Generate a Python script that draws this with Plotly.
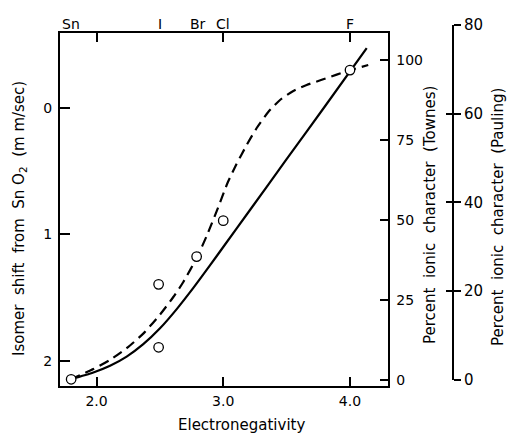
import plotly.graph_objects as go

# ---- data ----
elements = ["Sn", "I", "Br", "Cl", "F"]
electronegativity = [1.8, 2.5, 2.8, 3.0, 4.0]

point_en = [1.80, 2.49, 2.49, 2.79, 3.00, 4.00]
point_shift = [2.145, 1.892, 1.394, 1.175, 0.891, -0.300]

solid_en = [1.796, 1.975, 2.107, 2.238, 2.369, 2.501, 2.633, 2.764, 2.895, 3.000, 3.211,
            3.5, 3.8, 4.132]
solid_townes = [0.22, 2.34, 4.44, 7.31, 11.19, 16.16, 22.16, 28.78, 35.81, 41.56, 53.13,
                69.0, 85.4, 103.7]

dashed_en = [1.796, 1.975, 2.107, 2.238, 2.369, 2.501, 2.606, 2.685, 2.795, 2.869, 2.961,
             3.037, 3.101, 3.185, 3.264, 3.355, 3.448, 3.553, 3.658, 3.777, 3.895, 4.006, 4.144]
dashed_townes = [0.22, 3.41, 6.28, 9.94, 14.5, 20.44, 25.94, 30.63, 38.5, 45.0, 54.06,
                 61.88, 67.19, 73.44, 78.75, 83.75, 87.5, 90.31, 92.19, 93.81, 95.44, 96.88, 98.44]

x_ticks = [2.0, 3.0, 4.0]
x_tick_text = ["2.0", "3.0", "4.0"]
shift_ticks = [0, 1, 2]
townes_ticks = [0, 25, 50, 75, 100]
pauling_ticks = [0, 20, 40, 60, 80]

FONT = "DejaVu Sans"
NB = "\u00a0"
LW = 2

fig = go.Figure()

fig.add_trace(go.Scatter(
    x=solid_en, y=solid_townes, xaxis="x", yaxis="y", mode="lines",
    line=dict(color="black", width=2.2, shape="spline", smoothing=0.6),
    hoverinfo="skip", showlegend=False))
fig.add_trace(go.Scatter(
    x=dashed_en, y=dashed_townes, xaxis="x", yaxis="y", mode="lines",
    line=dict(color="black", width=2.2, shape="spline", smoothing=0.6, dash="10px,6px"),
    hoverinfo="skip", showlegend=False))
fig.add_trace(go.Scatter(
    x=point_en, y=point_shift, xaxis="x", yaxis="y2", mode="markers",
    marker=dict(symbol="circle", size=9.5, color="white", line=dict(color="black", width=1.3)),
    hoverinfo="skip", showlegend=False))
# invisible traces to carry the Pauling scale axes
fig.add_trace(go.Scatter(x=[0.5, 0.5], y=[0, 80], xaxis="x3", yaxis="y3", mode="markers",
                         marker=dict(opacity=0), hoverinfo="skip", showlegend=False))
fig.add_trace(go.Scatter(x=[0.5, 0.5], y=[0, 80], xaxis="x3", yaxis="y4", mode="markers",
                         marker=dict(opacity=0), hoverinfo="skip", showlegend=False))

tickfont = dict(family=FONT, size=14, color="black")

annotations = []
for el, en in zip(elements, electronegativity):
    annotations.append(dict(x=en, xref="x", y=0.9880, yref="paper", text=el, showarrow=False,
                            xanchor="center", yanchor="middle", font=tickfont))

annotations += [
    dict(x=-0.1005, y=0.459, xref="paper", yref="paper", textangle=-90, showarrow=False,
         xanchor="center", yanchor="middle", font=dict(family=FONT, size=15, color="black"),
         text=f"Isomer{NB}{NB}shift{NB}{NB}from{NB}{NB}Sn{NB}O<sub>2</sub>{NB}{NB}(m{NB}m/sec)"),
    dict(x=0.9069, y=0.467, xref="paper", yref="paper", textangle=-90, showarrow=False,
         xanchor="center", yanchor="middle", font=dict(family=FONT, size=15, color="black"),
         text=f"Percent{NB}{NB}ionic{NB}{NB}character{NB}{NB}(Townes)"),
    dict(x=1.0735, y=0.4617, xref="paper", yref="paper", textangle=-90, showarrow=False,
         xanchor="center", yanchor="middle", font=dict(family=FONT, size=15, color="black"),
         text=f"Percent{NB}{NB}ionic{NB}{NB}character{NB}{NB}(Pauling)"),
    dict(x=0.446, y=-0.1066, xref="paper", yref="paper", showarrow=False,
         xanchor="center", yanchor="middle", font=dict(family=FONT, size=15, color="black"),
         text="Electronegativity"),
]

fig.update_layout(
    width=508, height=435,
    margin=dict(l=60, r=40, t=20, b=49, pad=0),
    paper_bgcolor="white", plot_bgcolor="rgba(0,0,0,0)",
    font=dict(family=FONT, color="black"),
    showlegend=False,
    xaxis=dict(domain=[0, 0.8027], range=[1.712, 4.296], anchor="y",
               tickvals=x_ticks, ticktext=x_tick_text, ticks="inside", ticklen=9, tickwidth=1.5,
               tickcolor="black", showline=True, linewidth=LW, linecolor="black", mirror="ticks",
               showgrid=False, zeroline=False, tickfont=tickfont, ticklabelstandoff=1),
    yaxis=dict(domain=[0, 0.96448], range=[-1.875, 108.44], anchor="x", side="right",
               tickvals=townes_ticks, ticks="inside", ticklen=8, tickwidth=1.5, tickcolor="black",
               showline=True, linewidth=LW, linecolor="black", showgrid=False, zeroline=False,
               tickfont=tickfont, ticklabelstandoff=4),
    yaxis2=dict(overlaying="y", anchor="x", side="left", range=[2.198, -0.593],
                tickvals=shift_ticks, ticks="inside", ticklen=10, tickwidth=1.5, tickcolor="black",
                showline=True, linewidth=LW, linecolor="black", showgrid=False, zeroline=False,
                tickfont=tickfont, ticklabelstandoff=3),
    xaxis3=dict(domain=[0, 1], range=[0, 1], visible=False, anchor="free", position=0),
    yaxis3=dict(domain=[0.01639, 0.98634], range=[0, 80], anchor="free", position=0.96324,
                side="right", tickvals=pauling_ticks, ticks="outside", ticklen=7, tickwidth=1.5,
                tickcolor="black", showline=True, linewidth=LW, linecolor="black",
                showgrid=False, zeroline=False,
                tickfont=dict(family=FONT, size=15, color="black")),
    yaxis4=dict(overlaying="y3", range=[0, 80], anchor="free", position=0.96324, side="right",
                tickvals=pauling_ticks, ticks="inside", ticklen=7, tickwidth=1.5, tickcolor="black",
                showline=False, showticklabels=False, showgrid=False, zeroline=False),
    annotations=annotations,
)

fig.write_html("out.html", config={"displayModeBar": False},
               post_script="document.body.style.margin='0';")
